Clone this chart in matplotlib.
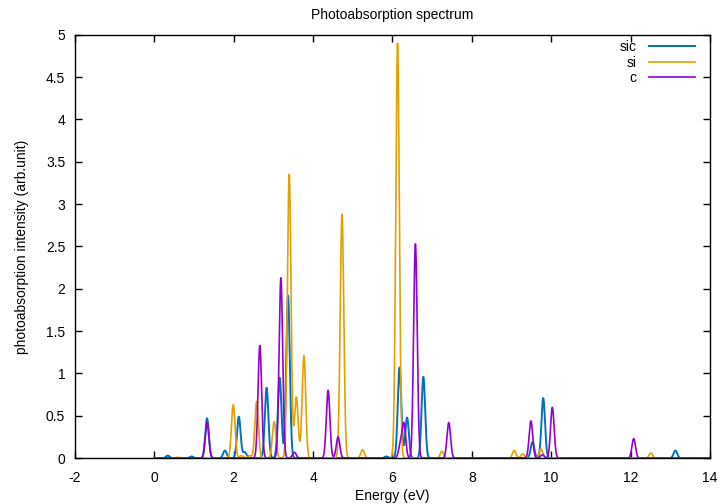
import numpy as np
import matplotlib.pyplot as plt

plt.rcParams['font.family'] = ['Liberation Sans', 'DejaVu Sans']
plt.rcParams['font.size'] = 10
plt.rcParams['axes.unicode_minus'] = False

# peak lists: (energy eV, intensity)
sic_pos = [0.34, 0.94, 1.33, 1.78, 2.13, 2.28, 2.83, 3.16, 3.37, 5.85,
           6.18, 6.37, 6.78, 9.53, 9.80, 13.13]
sic_amp = [0.03, 0.02, 0.47, 0.09, 0.49, 0.07, 0.83, 0.95, 1.92, 0.02,
           1.07, 0.48, 0.96, 0.19, 0.71, 0.09]

si_pos = [0.60, 1.99, 2.20, 2.40, 2.58, 3.02, 3.40, 3.58, 3.77, 4.73,
          5.25, 6.13, 7.25, 9.07, 9.28, 9.74, 12.51]
si_amp = [0.01, 0.63, 0.03, 0.03, 0.67, 0.43, 3.35, 0.72, 1.21, 2.88,
          0.10, 4.90, 0.08, 0.09, 0.05, 0.11, 0.06]

c_pos = [1.33, 2.66, 3.19, 3.53, 4.38, 4.63, 6.20, 6.29, 6.58, 7.42,
         9.49, 9.78, 10.03, 12.08]
c_amp = [0.42, 1.33, 2.13, 0.07, 0.80, 0.25, 0.15, 0.40, 2.53, 0.42,
         0.44, 0.04, 0.60, 0.23]

width = 0.045
energy = np.linspace(0, 14, 2801)


def broaden(pos, amp):
    y = np.zeros_like(energy)
    for p, a in zip(pos, amp):
        y += a * np.exp(-0.5 * ((energy - p) / width) ** 2)
    return y


fig = plt.figure(figsize=(7.2, 5.04), dpi=100)
ax = fig.add_axes([0.104, 0.091, 0.882, 0.840])

ax.plot(energy, broaden(sic_pos, sic_amp), color='#0072bd', lw=1.4, label='sic')
ax.plot(energy, broaden(si_pos, si_amp), color='#e69f00', lw=1.2, label='si')
ax.plot(energy, broaden(c_pos, c_amp), color='#9400d3', lw=1.2, label='c')

ax.set_xlim(-2, 14)
ax.set_ylim(0, 5)
ax.set_xticks(np.arange(-2, 15, 2))
ax.set_yticks([0, 0.5, 1, 1.5, 2, 2.5, 3, 3.5, 4, 4.5, 5])
ax.set_yticklabels(['0', '0.5', '1', '1.5', '2', '2.5', '3', '3.5', '4', '4.5', '5'])
ax.tick_params(direction='in', top=True, right=True, length=5, width=1)
ax.tick_params(axis='x', pad=9)
ax.tick_params(axis='y', pad=7)
for s in ax.spines.values():
    s.set_linewidth(1)

ax.set_xlabel('Energy (eV)', labelpad=3)
ax.set_ylabel('photoabsorption intensity (arb.unit)', labelpad=12)
ax.set_title('Photoabsorption spectrum', fontsize=10, pad=11)

leg = ax.legend(loc='upper right', frameon=False, markerfirst=False,
                handlelength=3.3, handletextpad=0.9, labelspacing=0.1,
                borderaxespad=0.0, bbox_to_anchor=(0.985, 1.0))
for t in leg.get_texts():
    t.set_ha('right')

fig.savefig('out.png', dpi=100)
